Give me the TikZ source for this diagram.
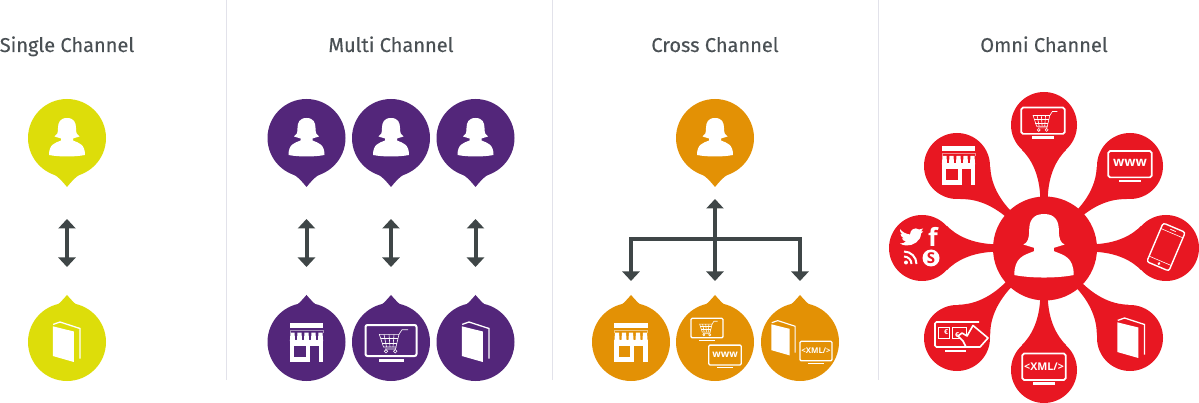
\documentclass[tikz,border=0pt]{standalone}
\usepackage{fontspec}
\setmainfont{Fira Sans}
\newfontfamily\headfont[FakeBold=0.25]{Fira Sans}
\newfontfamily\iconfont{Open Sans}
\usetikzlibrary{arrows.meta}
\definecolor{cyellow}{HTML}{DDDD0A}
\definecolor{cpurple}{HTML}{53267A}
\definecolor{corange}{HTML}{E39105}
\definecolor{cred}{HTML}{E81722}
\definecolor{cdark}{HTML}{3F4647}
\definecolor{chead}{HTML}{4A5054}
\definecolor{csep}{HTML}{E2E2EA}
\tikzset{
  heading/.style={text=chead,font=\headfont\fontsize{20}{22}\selectfont,inner sep=0pt,anchor=base},
  sepline/.style={draw=csep,line width=1pt},
  link/.style={draw=cdark,line width=4pt,line join=miter},
  linktip/.style={-{Triangle[width=17pt,length=9.5pt]}},
  linktips/.style={{Triangle[width=17pt,length=9.5pt]}-{Triangle[width=17pt,length=9.5pt]}},
  disc/.style={circle,inner sep=0pt,outer sep=0pt,minimum size=#1,draw=none},
}
\newcommand\pinnode[5]{%
  \node[disc=78pt,fill=#4] (#1) at (#2,#3) {};
  \begin{scope}[shift={(#2,#3)},yscale=#5]
    \fill[#4] (-15,35.5) .. controls (-9,38) and (-5,43) .. (0,49)
      .. controls (5,43) and (9,38) .. (15,35.5) -- cycle;
  \end{scope}}
\newcommand\personicon[3]{%
  \begin{scope}[shift={(#1,#2)},scale=#3]
    \fill[white] (0,-20) .. controls (-7,-20) and (-9,-15.5) .. (-9,-10)
      .. controls (-9,-5) and (-10,-2.5) .. (-12.5,-1.5) -- (-6,0.5) -- (-6,2.5)
      .. controls (-12,5) and (-18,6) .. (-18,17) .. controls (-8,19) and (8,19) .. (18,17)
      .. controls (18,6) and (12,5) .. (6,2.5) -- (6,0.5) -- (12.5,-1.5)
      .. controls (10,-2.5) and (9,-5) .. (9,-10)
      .. controls (9,-15.5) and (7,-20) .. (0,-20) -- cycle;
  \end{scope}}
\newcommand\bookicon[3]{%
  \begin{scope}[shift={(#1,#2)},scale=#3]
    \fill[white] (-12.7,-15.7) -- (8.3,-10.5) -- (8.3,20) -- (-12.7,14) -- cycle;
    \draw[white,line width=1.3pt*#3,line join=miter] (-12.3,-17.6) -- (-5.5,-20) -- (14.5,-13.5) -- (14.5,16.7);
  \end{scope}}
\newcommand\storeicon[4]{%
  \begin{scope}[shift={(#1,#2)},scale=#3]
    \fill[white] (-16.6,-19.5) rectangle (16.6,-14);
    \draw[white,opacity=.5,line width=.7pt] (-16.6,-9.5) -- (-16.6,-12) -- (16.6,-12) -- (16.6,-9.5);
    \fill[white] (-16.6,-2) rectangle (16.6,19.5);
    \foreach \tabx in {-14,-7,0,7,14}
      \fill[white] (\tabx-2,-9.5) -- (\tabx+2,-9.5) -- (\tabx+2.6,-1) -- (\tabx-2.6,-1) -- cycle;
    \fill[#4] (-12.3,4) rectangle (-1,15);
    \fill[#4] (3.3,4) rectangle (12.3,19.6);
  \end{scope}}
\newcommand\monitoricon[4]{%
  \begin{scope}[shift={(#1,#2)},scale=#3]
    \draw[white,line width=2pt*#3,rounded corners=2pt*#3] (-25.5,-17) rectangle (25.5,14);
    \fill[white] (-12.5,17) rectangle (12.5,19.5);
    #4
  \end{scope}}
\newcommand\carticon{%
  \begin{scope}[white,line width=.6pt]
    \draw (-11.7,-7.7) -- (8,-7.7) -- (5,5) -- (-7.5,5) -- cycle;
    \draw (-10.5,-3.5) -- (7,-3.5) (-9,1) -- (6,1);
    \draw (-7,-7.7) -- (-4.5,5) (-2,-7.7) -- (-1,5) (3,-7.7) -- (2,5);
    \draw (8,-7.7) -- (11,-12.3) -- (17,-12.3);
    \draw (5,5) -- (4.5,7) -- (-6,7);
    \draw (-5,9.3) circle (1.7) (4.3,9.3) circle (1.7);
  \end{scope}}
\newcommand\wwwtext{\node[transform shape,white,inner sep=0pt,font=\iconfont\bfseries\fontsize{15.5}{16}\selectfont] (wwwlabel) at (0,-2.5) {www};}
\newcommand\xmltext{\node[transform shape,white,inner sep=0pt,font=\iconfont\bfseries\fontsize{12.5}{13}\selectfont] (xmllabel) at (0,-1.5) {<XML/>};}
\newcommand\neckshape[2]{%
  \begin{scope}[shift={(#1.center)},rotate=#2]
    \fill[cred] (25,22) .. controls (33,14) and (48,4) .. (75,3.7)
      -- (75,-3.7) .. controls (48,-4) and (33,-14) .. (25,-22) -- cycle;
  \end{scope}}
\begin{document}
\begin{tikzpicture}[x=1pt,y=-1pt]
\useasboundingbox (0,0) rectangle (1199,403);
% separators
\coordinate (sa) at (226.5,0); \coordinate (sb) at (226.5,380);
\coordinate (sc) at (552.5,0); \coordinate (sd) at (552.5,380);
\coordinate (se) at (878,0);   \coordinate (sf) at (878,380);
\draw[sepline] (sa) -- (sb);
\draw[sepline] (sc) -- (sd);
\draw[sepline] (se) -- (sf);
% headings
\node[heading] (h1) at (67,52) {Single Channel};
\node[heading] (h2) at (391,52) {Multi Channel};
\node[heading] (h3) at (715,52) {Cross Channel};
\node[heading] (h4) at (1044,52) {Omni Channel};
% single
\pinnode{s1}{67}{138}{cyellow}{1}
\pinnode{s2}{67}{342}{cyellow}{-0.96}
\personicon{67}{138}{1}
\bookicon{65.5}{342}{1}
\draw[link,linktips,shorten <=42pt,shorten >=36pt] (s1.south) -- (s2.north);
% multi
\pinnode{m1}{306.5}{138}{cpurple}{1}
\pinnode{m2}{391}{138}{cpurple}{1}
\pinnode{m3}{475.5}{138}{cpurple}{1}
\pinnode{m4}{306.5}{342}{cpurple}{-0.96}
\pinnode{m5}{391}{342}{cpurple}{-0.96}
\pinnode{m6}{475.5}{342}{cpurple}{-0.96}
\personicon{306.5}{138}{1}
\personicon{391}{138}{1}
\personicon{475.5}{138}{1}
\storeicon{306.5}{342}{1}{cpurple}
\monitoricon{391}{342}{1}{\carticon}
\bookicon{474.5}{342}{1}
\draw[link,linktips,shorten <=42pt,shorten >=36pt] (m1.south) -- (m4.north);
\draw[link,linktips,shorten <=42pt,shorten >=36pt] (m2.south) -- (m5.north);
\draw[link,linktips,shorten <=42pt,shorten >=36pt] (m3.south) -- (m6.north);
% cross
\pinnode{c0}{715}{138}{corange}{1}
\pinnode{c1}{631}{342}{corange}{-0.96}
\pinnode{c2}{715}{342}{corange}{-0.96}
\pinnode{c3}{800}{342}{corange}{-0.96}
\personicon{715}{138}{1}
\storeicon{631}{342}{1}{corange}
\monitoricon{707}{329}{.63}{\carticon}
\monitoricon{725}{356}{.64}{\wwwtext}
\bookicon{782.5}{338}{.87}
\monitoricon{816}{352}{.63}{\xmltext}
\coordinate (jn) at (715,239);
\draw[link,linktip,shorten >=22pt] (jn) -- (c0.south);
\draw[link,linktip,shorten >=22pt] (jn) -- (c2.north);
\draw[link,linktip,shorten >=22pt] (jn) -| (c1.north);
\draw[link,linktip,shorten >=22pt] (jn) -| (c3.north);
% omni
\node[disc=104pt,fill=cred] (hub) at (1045,248.5) {};
\node[disc=66pt,fill=cred] (o1) at (1044,125) {};
\node[disc=66pt,fill=cred] (o2) at (957,166) {};
\node[disc=66pt,fill=cred] (o3) at (1130,166) {};
\node[disc=66pt,fill=cred] (o4) at (922,248) {};
\node[disc=66pt,fill=cred] (o5) at (1166,248) {};
\node[disc=66pt,fill=cred] (o6) at (957,338) {};
\node[disc=66pt,fill=cred] (o7) at (1130,338) {};
\node[disc=66pt,fill=cred] (o8) at (1044,370) {};
\neckshape{o1}{-90}
\neckshape{o2}{-43}
\neckshape{o3}{-137}
\neckshape{o4}{0}
\neckshape{o5}{180}
\neckshape{o6}{46}
\neckshape{o7}{134}
\neckshape{o8}{90}
\personicon{1044}{247}{1.65}
\monitoricon{1043}{122}{.85}{\carticon}
\storeicon{958.5}{165.5}{1}{cred}
\monitoricon{1130}{165.5}{.85}{\wwwtext}
\bookicon{1130}{338}{1}
\monitoricon{1044}{368}{.85}{\xmltext}
% phone
\begin{scope}[shift={(1166,247)},rotate=-23]
  \draw[white,line width=1.4pt,rounded corners=2.5pt] (-12,-21) rectangle (12,21);
  \draw[white,line width=.6pt] (-12,-15) -- (12,-15) (-12,15) -- (12,15);
  \draw[white,line width=.7pt] (-3,-18) -- (3,-18);
  \fill[white] (0,18) circle (1.5);
\end{scope}
% social
\fill[white] (900,229) .. controls (902,232) and (906,234) .. (910,234.5)
  .. controls (910,230) and (915,226.5) .. (919,229.5) -- (923,228.5) -- (921,231.5) -- (923,231.5) -- (921,233.5)
  .. controls (921,241) and (913,246) .. (906,245.5) .. controls (904,245.5) and (902,244.5) .. (900,243.5)
  .. controls (902,243.5) and (904.5,243) .. (906,241.5) .. controls (904,241) and (902.5,240) .. (902,238.5)
  -- (904,238.5) .. controls (902,237.5) and (900.5,235.5) .. (900.5,234) -- (902.5,234.5)
  .. controls (900.5,233) and (899.5,231) .. (900,229) -- cycle;
\node[white,inner sep=0pt,font=\iconfont\bfseries\fontsize{25}{25}\selectfont] (fb) at (933,237) {f};
\fill[white] (906,262.5) circle (2);
\draw[white,line width=2pt] (904,256.5) arc[start angle=90,end angle=0,radius=7.5pt];
\draw[white,line width=2pt] (904,251.5) arc[start angle=90,end angle=0,radius=12.5pt];
\node[disc=17pt,fill=white] (skypedisc) at (931,258) {};
\node[inner sep=0pt,text=cred,font=\iconfont\bfseries\fontsize{15}{15}\selectfont] (skype) at (931,258) {S};
% payment
\draw[white,line width=1.6pt,rounded corners=1.5pt] (979,322) -- (935,322) -- (935,347) -- (966,347);
\fill[white] (945,349.5) rectangle (966,351.5);
\draw[white,line width=.8pt] (938.5,327.5) rectangle (949,338);
\draw[white,line width=.8pt] (952,327.5) rectangle (966,338);
\node[white,inner sep=0pt,font=\iconfont\bfseries\fontsize{7}{7}\selectfont] (eu1) at (946,332.5) {€};
\node[white,inner sep=0pt,font=\iconfont\bfseries\fontsize{7}{7}\selectfont] (eu2) at (957,335) {€};
\draw[white,line width=1.6pt,fill=cred,line join=round] (958,336) -- (962,333) -- (967,336) -- (973,325.5) -- (988,338) -- (980,347) -- (966,347) -- (963,341) -- cycle;
\end{tikzpicture}
\end{document}
